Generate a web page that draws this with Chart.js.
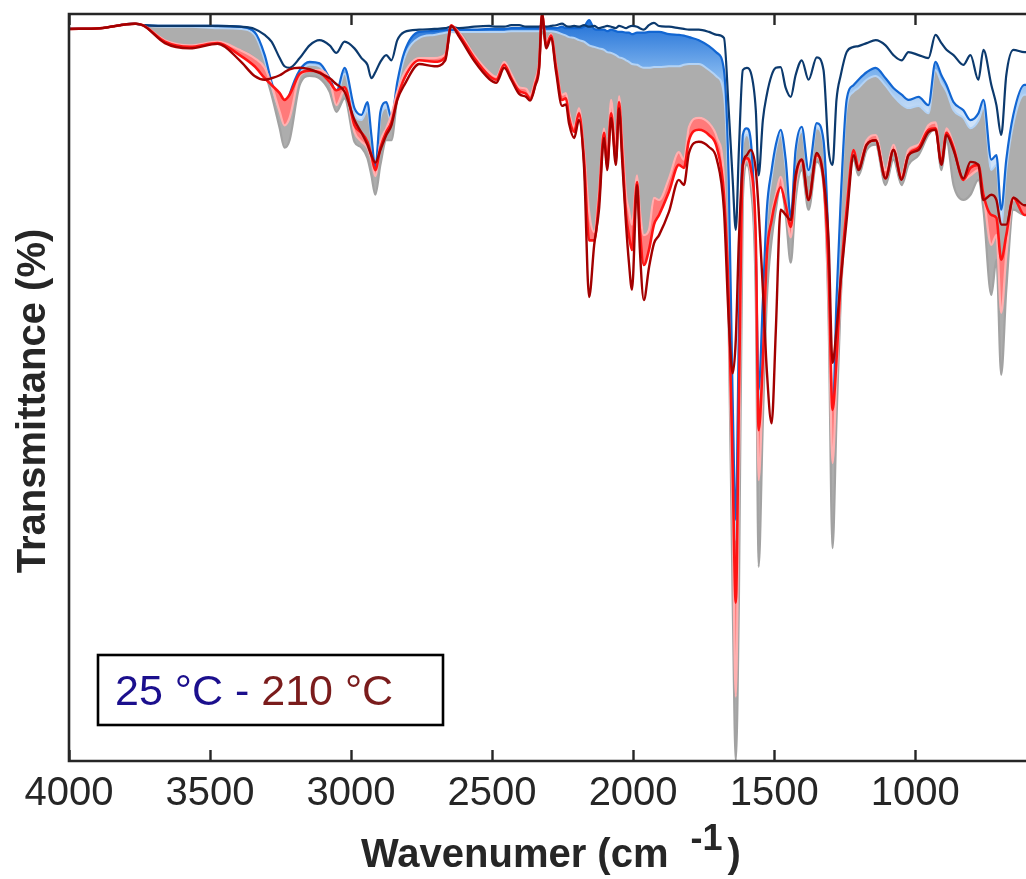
<!DOCTYPE html>
<html>
<head>
<meta charset="utf-8">
<script src="https://cdn.jsdelivr.net/npm/chart.js@4.4.1/dist/chart.umd.min.js"></script>
<style>
  html, body { margin: 0; padding: 0; overflow: hidden; background: #fff; width: 1026px; height: 879px; }
  canvas { display: block; }
</style>
</head>
<body>
<canvas id="ftir" width="1028" height="879"></canvas>
<script>
// Wavenumber grid (cm^-1), shared by every spectrum
const wavenumber = [4000,3890,3766,3738,3660,3572,3473,3395,3342,3306,
  3282,3253,3236,3218,3182,3147,3112,3076,3052,3023,
  2988,2963,2942,2928,2914,2896,2875,2857,2836,2811,
  2758,2705,2666,2645,2616,2563,2510,2485,2457,2432,
  2404,2379,2365,2347,2333,2323,2308,2291,2273,2252,
  2238,2227,2209,2192,2174,2156,2138,2121,2103,2092,
  2078,2061,2050,2039,2025,2015,2004,1986,1976,1962,
  1944,1926,1908,1873,1838,1820,1802,1767,1731,1703,
  1678,1661,1647,1636,1625,1611,1597,1583,1565,1555,
  1540,1526,1509,1494,1477,1459,1441,1424,1402,1378,
  1349,1325,1307,1293,1279,1264,1243,1218,1201,1172,
  1140,1105,1077,1048,1024,988,953,928,907,889,
  864,829,804,776,758,730,712,695,677,652,
  613,600];

// Transmittance (%) at 25 °C
const t25 = [98.0,98.1,98.7,98.5,98.4,98.4,98.4,98.3,98.0,97.2,
  96.3,94.1,93.0,92.8,94.1,95.8,96.5,95.8,94.8,96.3,
  95.4,94.1,93.2,91.4,92.2,93.6,94.5,93.8,96.5,97.6,
  97.9,98.0,98.1,98.3,98.1,98.3,98.4,98.3,98.3,98.5,
  98.5,98.3,98.3,98.3,98.3,98.5,98.3,98.4,98.5,98.7,
  98.4,98.3,98.4,98.3,98.5,98.3,98.4,98.1,98.3,98.4,
  98.3,98.1,98.4,98.3,98.1,98.3,98.4,98.3,98.1,97.9,
  98.5,98.8,98.4,98.3,98.1,98.0,97.9,97.9,97.6,97.2,
  96.8,87.1,77.8,71.1,81.8,92.5,92.8,92.2,87.1,78.4,
  85.8,89.2,91.8,92.8,92.9,90.1,88.9,91.8,93.8,91.2,
  94.2,92.5,81.8,79.8,88.5,91.8,94.9,95.6,95.7,96.1,
  96.5,95.8,94.5,93.8,94.9,94.5,94.1,97.2,96.1,95.2,
  94.5,93.2,94.5,91.2,95.2,90.5,87.8,83.8,91.8,95.2,
  94.9,94.9];

// Early heating steps (blue group): upper and lower spectra
const tBlueUpper = [98.0,98.1,98.7,98.5,98.4,98.4,98.4,98.3,97.6,94.5,
  90.9,87.8,86.5,89.2,92.5,93.6,93.4,91.4,89.6,92.8,
  87.4,86.5,88.2,83.8,79.4,86.9,88.2,86.1,90.9,94.9,
  97.6,97.7,97.9,97.9,97.9,97.9,98.0,98.0,98.0,98.1,
  98.1,98.1,98.1,98.1,98.1,98.3,98.1,98.1,98.1,98.3,
  98.1,98.1,98.1,98.1,98.3,99.2,98.0,97.9,97.9,97.7,
  97.9,97.7,97.6,97.6,97.5,97.5,97.3,97.5,97.5,97.5,
  97.6,97.6,97.6,97.3,97.2,97.1,96.9,96.5,95.7,94.8,
  92.5,77.8,48.3,32.3,57.7,83.8,84.7,83.1,68.4,49.7,
  61.7,73.8,79.1,82.5,84.5,80.5,72.8,81.8,84.9,79.1,
  85.4,83.1,68.4,45.6,61.7,75.1,88.5,90.5,91.2,92.2,
  92.8,91.4,90.1,89.2,88.5,88.9,87.8,93.6,91.8,90.5,
  88.2,87.1,85.8,86.7,88.5,80.5,81.1,73.8,80.5,86.5,
  90.5,90.5];

const tBlueLower = [98.0,98.1,98.7,98.5,98.3,98.3,98.1,98.0,97.2,93.8,
  90.4,87.1,85.8,88.5,92.0,93.2,93.0,90.9,89.0,92.0,
  86.5,85.8,87.1,83.1,78.8,86.1,87.4,85.5,90.1,94.1,
  96.8,97.2,97.5,97.6,97.6,97.6,97.6,97.6,97.6,97.7,
  97.7,97.7,97.7,97.7,97.7,97.9,97.7,97.7,97.6,97.3,
  97.1,96.9,96.8,96.5,96.3,95.8,95.6,95.4,95.2,94.9,
  94.8,94.5,94.2,94.1,93.8,93.6,93.3,93.2,93.0,92.8,
  92.8,92.9,92.9,93.0,93.0,93.2,93.3,93.3,92.5,91.6,
  89.2,74.4,44.3,29.6,55.0,82.5,83.8,82.1,66.4,48.3,
  60.4,72.4,78.0,81.8,83.8,79.4,72.2,81.1,84.2,78.4,
  84.7,82.5,67.1,42.9,59.0,73.8,87.4,89.6,90.1,91.2,
  91.7,90.4,89.0,87.9,87.4,87.7,86.7,92.5,90.8,89.6,
  87.1,86.1,84.7,85.7,87.4,79.1,79.8,71.8,79.1,85.3,
  89.2,89.2];

// Intermediate temperatures (grey group): lowest spectrum of the group
const tGreyLower = [98.0,98.1,98.7,98.5,96.5,95.8,96.3,95.2,94.1,92.2,
  89.2,84.7,82.1,83.1,90.5,91.7,91.4,89.6,86.9,88.7,
  82.9,82.1,80.7,78.4,75.8,79.8,83.1,83.1,88.7,91.4,
  94.1,94.1,94.6,97.6,97.5,94.5,92.2,91.6,93.6,92.0,
  90.2,90.0,89.2,91.2,93.8,97.9,96.3,97.3,93.3,89.2,
  89.4,86.9,84.9,87.4,81.8,73.1,70.4,76.2,84.7,81.1,
  88.5,82.5,89.0,83.8,75.8,73.8,71.8,78.4,73.8,70.4,
  71.1,75.4,75.1,78.0,81.5,80.5,84.9,86.1,85.4,83.5,
  78.2,57.7,21.6,0.0,21.6,75.1,79.8,77.1,61.7,26.0,
  45.6,61.7,69.7,73.8,77.1,73.1,66.7,75.1,79.1,73.8,
  80.2,77.1,59.0,28.5,45.6,61.7,73.8,80.5,78.4,81.8,
  82.5,77.1,80.5,77.1,79.8,81.1,83.8,84.7,79.1,83.1,
  77.1,75.1,75.8,77.8,73.8,62.4,67.1,51.7,63.1,73.8,
  73.1,73.1];

// Late heating steps (red group)
const tPink = [98.0,98.1,98.7,98.5,96.5,95.8,96.3,95.2,94.1,92.8,
  90.5,86.9,85.1,86.1,91.7,92.4,92.5,91.2,87.8,89.8,
  84.2,82.9,82.1,80.5,78.3,82.9,84.7,86.5,89.6,92.1,
  94.1,94.1,94.6,98.3,97.5,94.5,92.2,91.6,93.6,92.0,
  90.2,90.0,89.2,91.2,93.8,99.7,96.3,97.3,93.3,89.2,
  89.4,86.9,84.9,87.4,81.8,73.5,70.8,76.4,84.7,81.1,
  88.5,82.5,89.0,83.8,75.8,73.8,71.8,78.4,73.8,70.4,
  71.1,75.4,75.1,78.0,81.5,80.5,84.9,86.1,85.4,83.5,
  78.2,59.0,32.3,8.6,37.6,78.4,80.5,78.4,67.1,37.6,
  51.0,67.1,73.1,75.8,78.2,74.4,70.1,77.1,80.1,75.1,
  80.9,77.8,61.7,39.9,51.0,63.1,74.4,81.8,79.8,83.1,
  83.8,79.1,82.5,78.4,81.8,82.5,85.1,85.5,80.5,84.7,
  82.5,77.8,78.4,79.1,75.8,69.1,70.4,60.0,67.7,75.1,
  74.4,74.4];

const tRed = [98.0,98.1,98.7,98.5,96.3,95.6,96.1,94.5,93.0,91.4,
  90.5,89.4,88.5,89.2,92.0,92.4,92.2,90.9,89.8,90.2,
  85.1,84.1,82.9,81.1,79.1,82.1,84.2,85.5,88.7,91.4,
  93.8,93.6,94.2,98.5,97.2,94.1,91.7,91.2,93.2,91.4,
  89.7,89.3,88.6,90.6,93.2,100.0,95.8,97.1,92.8,88.5,
  88.7,86.1,84.2,86.7,80.5,69.7,69.7,75.1,84.1,79.8,
  86.7,80.5,88.2,81.8,73.1,70.4,68.4,77.5,71.1,66.4,
  68.4,71.8,73.1,76.2,79.8,79.4,83.1,84.5,83.8,82.1,
  75.8,61.7,38.9,21.2,48.3,79.8,80.7,79.4,69.7,44.3,
  53.7,67.7,72.4,75.1,76.8,74.4,71.5,78.0,80.5,75.1,
  81.1,77.8,65.7,47.0,53.7,64.4,73.8,81.8,79.4,82.5,
  83.1,78.0,81.8,78.0,81.1,82.1,84.5,84.7,80.1,84.1,
  82.1,77.8,79.4,79.8,75.8,73.1,72.7,67.1,70.4,75.4,
  73.1,73.1];

// Transmittance (%) at 210 °C
const t210 = [98.0,98.1,98.7,98.5,96.1,95.4,96.0,93.8,91.7,91.2,
  91.4,91.8,92.2,92.6,92.8,92.6,92.1,91.4,90.6,89.6,
  85.8,84.1,82.5,81.1,80.1,81.8,83.8,85.1,88.5,90.5,
  93.3,93.0,93.8,98.4,96.9,93.7,91.3,90.8,92.8,91.2,
  89.3,88.9,88.4,90.4,92.8,100.0,95.4,96.8,92.2,87.7,
  87.9,85.3,83.4,85.8,79.5,62.1,69.1,73.8,83.4,79.1,
  86.1,79.8,87.4,80.5,71.8,66.8,63.1,77.1,68.4,61.7,
  66.0,69.3,70.4,73.5,77.8,77.1,81.4,82.9,82.2,80.5,
  73.8,59.0,51.9,56.4,69.7,79.8,81.1,81.8,79.1,73.8,
  63.1,52.3,45.2,57.7,73.8,73.1,72.4,78.4,80.5,75.1,
  81.4,78.0,69.7,53.3,57.7,64.4,72.4,81.1,79.1,82.5,
  83.1,78.0,81.8,77.8,81.1,81.8,84.2,84.5,79.8,83.8,
  81.8,78.0,80.2,79.8,75.1,75.8,75.1,71.8,71.8,75.4,
  74.4,74.4];

const xTicks = [4000, 3500, 3000, 2500, 2000, 1500, 1000];

const FONT = '"Liberation Sans", Arial, Helvetica, sans-serif';
const AXIS = '#262626';

const series = values => wavenumber.map((w, i) => ({ x: w, y: values[i] }));

const line = (label, values, color, width, extra) => Object.assign({
  label, data: series(values), borderColor: color, backgroundColor: color,
  borderWidth: width, pointRadius: 0, fill: false, cubicInterpolationMode: 'monotone'
}, extra || {});

// Blue band shading: saturated near the top of the plot, paler further down
let blueShade = null;
const blueBand = ctx => {
  const chart = ctx.chart;
  if (!chart.chartArea) return '#6fa8ea';
  if (!blueShade) {
    blueShade = chart.ctx.createLinearGradient(0, 22, 0, 115);
    blueShade.addColorStop(0, '#2473d8');
    blueShade.addColorStop(0.55, '#7fb4ee');
    blueShade.addColorStop(1, '#cfe2f8');
  }
  return blueShade;
};

// Dataset 0 is painted last (on top); fills are painted just before their own line.
const datasets = [
  line('210 °C', t210, '#a30000', 2.4),
  line('red', tRed, '#ff1414', 2.6),
  line('pink', tPink, '#ffb0b0', 2.2, { fill: 1, backgroundColor: '#ff7a7a' }),
  line('25 °C', t25, '#0c3a6e', 2.2),
  line('blue upper', tBlueUpper, '#1266d2', 2.2),
  line('blue lower', tBlueLower, '#b3d3f6', 2.0, { fill: 4, backgroundColor: blueBand }),
  line('grey', tGreyLower, '#a2a2a2', 2.2, { fill: 5, backgroundColor: '#adadad' })
];

const frame = {
  id: 'frame',
  afterDatasetsDraw(chart) {
    const { ctx, chartArea: a, scales: { x } } = chart;
    ctx.save();
    ctx.strokeStyle = AXIS;
    ctx.lineWidth = 2.6;
    ctx.beginPath();
    ctx.moveTo(a.right, a.top); ctx.lineTo(a.left, a.top);
    ctx.lineTo(a.left, a.bottom); ctx.lineTo(a.right, a.bottom);
    ctx.stroke();
    ctx.lineWidth = 2.4;
    xTicks.forEach(v => {
      const px = Math.round(x.getPixelForValue(v)) + 0.5;
      ctx.beginPath();
      ctx.moveTo(px, a.bottom); ctx.lineTo(px, a.bottom - 11);
      ctx.moveTo(px, a.top); ctx.lineTo(px, a.top + 11);
      ctx.stroke();
    });
    ctx.restore();
  },
  afterDraw(chart) {
    const { ctx } = chart;
    ctx.save();
    // axis titles
    ctx.fillStyle = AXIS;
    ctx.font = 'bold 40px ' + FONT;
    ctx.textBaseline = 'alphabetic';
    ctx.textAlign = 'left';
    const part1 = 'Wavenumer (cm';
    const x0 = 361, base = 867;
    ctx.fillText(part1, x0, base);
    const w1 = ctx.measureText(part1).width;
    ctx.font = 'bold 36px ' + FONT;
    const supX = x0 + w1 + 22;
    ctx.fillText('-1', supX, base - 17);
    const wSup = ctx.measureText('-1').width;
    ctx.font = 'bold 40px ' + FONT;
    ctx.fillText(')', supX + wSup + 5, base);

    ctx.translate(45, 401);
    ctx.rotate(-Math.PI / 2);
    ctx.textAlign = 'center';
    ctx.fillText('Transmittance (%)', 0, 0);
    ctx.setTransform(1, 0, 0, 1, 0, 0);

    // temperature range box
    ctx.fillStyle = '#ffffff';
    ctx.fillRect(98, 655, 345, 70);
    ctx.strokeStyle = '#000000';
    ctx.lineWidth = 2.6;
    ctx.strokeRect(98, 655, 345, 70);
    ctx.font = '43px ' + FONT;
    ctx.textAlign = 'left';
    const lowText = '25 °C - ';
    ctx.fillStyle = '#1b0f8d';
    ctx.fillText(lowText, 115, 705);
    const wl = ctx.measureText(lowText).width;
    ctx.fillStyle = '#7a1c1c';
    ctx.fillText('210 °C', 115 + wl, 705);
    ctx.restore();
  }
};

new Chart(document.getElementById('ftir'), {
  type: 'line',
  data: { datasets },
  plugins: [frame],
  options: {
    responsive: false,
    animation: false,
    devicePixelRatio: 1,
    layout: { padding: { left: 69, right: 0, top: 14, bottom: 0 } },
    plugins: { legend: { display: false }, tooltip: { enabled: false } },
    scales: {
      x: {
        type: 'linear', reverse: true, min: 600, max: 4000,
        afterBuildTicks: s => { s.ticks = xTicks.map(v => ({ value: v })); },
        afterFit: s => { s.height = 118; },
        grid: { display: false, drawTicks: false },
        border: { display: false },
        ticks: {
          autoSkip: false, maxRotation: 0, padding: 9, color: AXIS,
          font: { family: FONT, size: 40 },
          callback: v => String(v)
        }
      },
      y: { display: false, min: 0, max: 100 }
    }
  }
});
</script>
</body>
</html>
